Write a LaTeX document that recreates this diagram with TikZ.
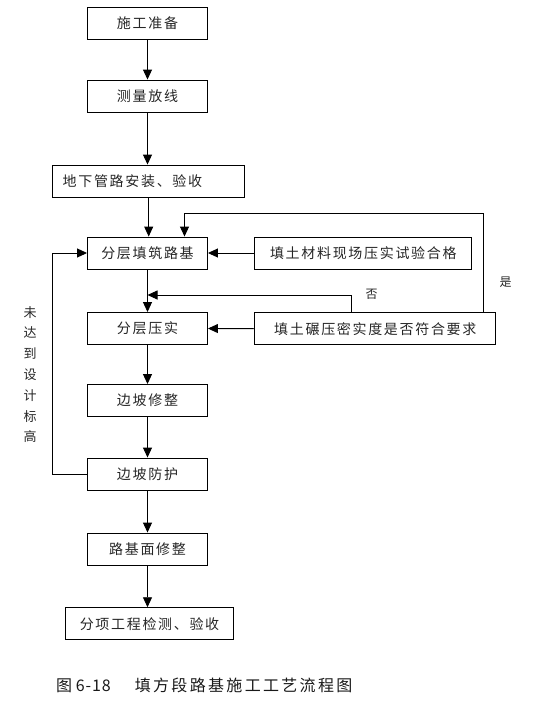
\documentclass[tikz,border=0pt]{standalone}
\usepackage{fontspec}
\usetikzlibrary{arrows.meta}
\newfontfamily\cjk[LetterSpace=12]{Noto Sans CJK SC}
\newfontfamily\cjkcap[LetterSpace=14.5]{Noto Sans CJK SC}
\newfontfamily\cjkdigit[LetterSpace=6]{Noto Sans CJK SC}
\newfontfamily\cjksmall{Noto Sans CJK SC}

\begin{document}
\begin{tikzpicture}[x=1pt,y=-1pt,
  box/.style={draw, line width=0.9pt, minimum height=32pt, inner sep=0pt,
    text=black!85, font={\cjk\fontsize{14}{16}\selectfont}},
  arr/.style={-{Triangle[width=9pt,length=10pt]}, line width=0.9pt},
  note/.style={text=black!85, font={\cjksmall\fontsize{12}{14}\selectfont}}]
\useasboundingbox (0,0) rectangle (548,707);
    % main column
\node[box, minimum width=120pt] (prep)    at (147.5,23)  {施工准备};
\node[box, minimum width=120pt] (survey)  at (147.5,96)  {测量放线};
\node[box, text width=172pt, inner xsep=10pt, align=left] (pipe) at (148.7,181) {地下管路安装、验收};
\node[box, minimum width=120pt] (fill)    at (147.5,253) {分层填筑路基};
\node[box, minimum width=120pt] (compact) at (147.5,328.5) {分层压实};
\node[box, minimum width=120pt] (slope)   at (147.5,400.5) {边坡修整};
\node[box, minimum width=120pt] (protect) at (147.5,474) {边坡防护};
\node[box, minimum width=120pt] (surface) at (147.5,549) {路基面修整};
\node[box, minimum width=168pt] (check)   at (149.5,623.7) {分项工程检测、验收};
    % side boxes
\node[box, minimum width=217pt] (material) at (363.3,253) {填土材料现场压实试验合格};
\node[box, minimum width=241pt] (density)  at (375.3,328.7) {填土碾压密实度是否符合要求};
\foreach \a/\b in {prep/survey,survey/pipe,pipe/fill,fill/compact,compact/slope,
                   slope/protect,protect/surface,surface/check}
  \draw[arr] (\a.south) -- (\a.south |- \b.north);
\draw[arr] (material.west) -- (fill.east);
\draw[arr] (density.west) -- (compact.east);
    % yes / no feedback
\coordinate (yes) at (483.3,213.3);
\coordinate (no) at (351.7,295);
\draw[arr] (density.north -| yes) -- (yes) -| ([xshift=37pt]fill.north);
\draw[arr] (density.north -| no) -- (no) -- (no -| compact.north);
\node[note] (yeslabel) at (505.7,281.7) {是};
\node[note] (nolabel) at (371.7,294.3) {否};
    % loop back when height not reached
\draw[arr] (protect.west) -- ++(-35,0) |- (fill.west);
\node[note, align=center, font={\cjksmall\fontsize{13}{20.8}\selectfont}] (height) at (30,374.5)
  {未\\达\\到\\设\\计\\标\\高};
\node[anchor=west, inner sep=0pt, text=black!90, font={\cjksmall\fontsize{16}{18}\selectfont}] (caption) at (56,685)
  {图 {\cjkdigit 6-18}\hspace{24pt}{\cjkcap 填方段路基施工工艺流程图}};
\end{tikzpicture}
\end{document}
